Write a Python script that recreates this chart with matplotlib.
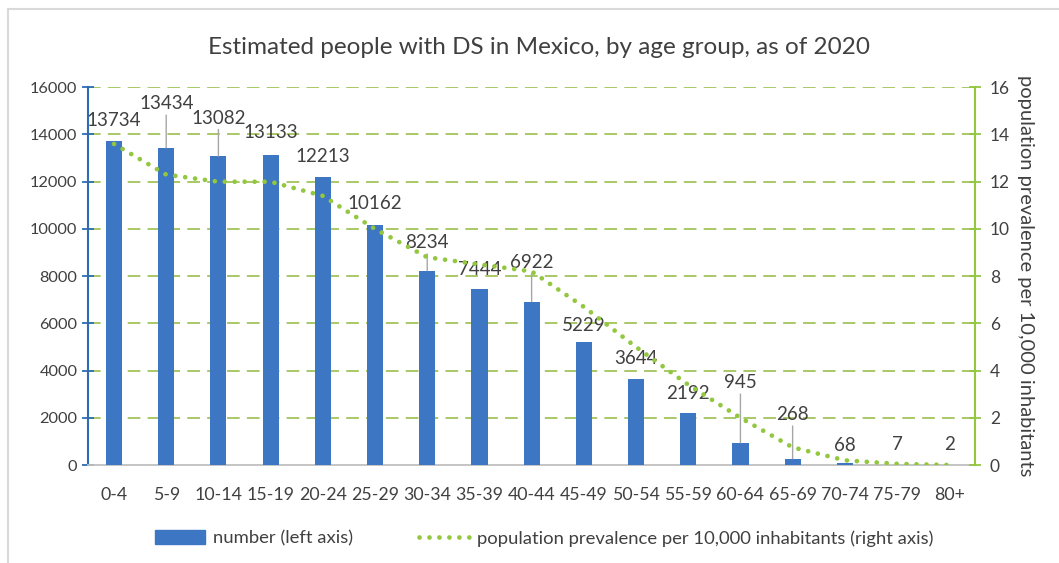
import matplotlib.pyplot as plt
import matplotlib.lines as mlines
import matplotlib.patches as mpatches

plt.rcParams['font.family'] = ['Lato', 'DejaVu Sans']

# Data
age_groups = ['0-4', '5-9', '10-14', '15-19', '20-24', '25-29', '30-34', '35-39',
              '40-44', '45-49', '50-54', '55-59', '60-64', '65-69', '70-74', '75-79', '80+']
people = [13734, 13434, 13082, 13133, 12213, 10162, 8234, 7444,
          6922, 5229, 3644, 2192, 945, 268, 68, 7, 2]
prevalence = [13.6, 12.3, 12.0, 12.0, 11.4, 10.0, 8.8, 8.5,
              8.2, 6.7, 5.0, 3.4, 2.0, 0.75, 0.2, 0.05, 0.0]

# label placement: pixel distance of the data label above the bar top
label_px = [20, 44, 38, 22, 20, 22, 28, 20, 39, 16, 21, 20, 60, 44, 18, 20, 20]

BLUE = '#3D76C2'
GREEN = '#92C73F'
GRID = '#A3C45A'
TXT = '#404040'

fig = plt.figure(figsize=(10.59, 5.63), dpi=100)
ax = fig.add_axes([0.083, 0.174, 0.838, 0.671])
ax2 = ax.twinx()

x = range(len(age_groups))
ax.bar(x, people, width=0.31, color=BLUE, zorder=3)

for i, v in enumerate(people):
    off = label_px[i] * 0.72
    if label_px[i] > 25:
        ax.annotate(str(v), xy=(i, v), xytext=(0, off), textcoords='offset points',
                    ha='center', va='center', fontsize=13.5, color=TXT, zorder=5,
                    arrowprops=dict(arrowstyle='-', color='#A6A6A6', lw=1,
                                    shrinkA=0, shrinkB=0))
    else:
        ax.annotate(str(v), xy=(i, v), xytext=(0, off), textcoords='offset points',
                    ha='center', va='center', fontsize=13.5, color=TXT, zorder=5)

ax2.plot(list(x), prevalence, color=GREEN, lw=3.4, linestyle=(0, (0.01, 2.1)),
         dash_capstyle='round', zorder=4)

ax.set_xlim(-0.5, len(age_groups) - 0.5)
ax.set_ylim(0, 16000)
ax.set_yticks(range(0, 16001, 2000))
ax2.set_ylim(0, 16)
ax2.set_yticks(range(0, 17, 2))

for yv in range(2000, 16001, 2000):
    ax.axhline(yv, color=GRID, lw=1.3, linestyle=(0, (7, 4)), zorder=1)

ax.set_xticks(list(x))
ax.set_xticklabels(age_groups)
ax.tick_params(axis='x', length=0, pad=16, labelsize=12.8, labelcolor=TXT)
ax.tick_params(axis='y', direction='inout', length=9, width=1.3, color='#2E6DB4',
               labelsize=11.8, labelcolor=TXT, pad=3)
ax2.tick_params(axis='y', direction='inout', length=9, width=1.3, color=GREEN,
                labelsize=12.5, labelcolor=TXT, pad=6)

for a in (ax, ax2):
    for s in a.spines.values():
        s.set_visible(False)
ax.spines['left'].set_visible(True)
ax.spines['left'].set_color('#2E6DB4')
ax.spines['left'].set_linewidth(1.5)
ax2.spines['right'].set_visible(True)
ax2.spines['right'].set_color(GREEN)
ax2.spines['right'].set_linewidth(1.5)
ax.spines['bottom'].set_visible(True)
ax.spines['bottom'].set_color('#BFBFBF')
ax.spines['bottom'].set_linewidth(1.3)

ax2.set_ylabel('population prevalence per 10,000 inhabitants', rotation=-90,
               fontsize=14.5, color=TXT, labelpad=17)

fig.text(0.509, 0.915, 'Estimated people with DS in Mexico, by age group, as of 2020',
         ha='center', va='center', fontsize=17.5, color=TXT)

h1 = mpatches.Patch(color=BLUE)
h2 = mlines.Line2D([], [], color=GREEN, lw=3.4, linestyle=(0, (0.01, 2.1)),
                   dash_capstyle='round')
fig.legend([h1, h2], ['number (left axis)',
                      'population prevalence per 10,000 inhabitants (right axis)'],
           loc='center', bbox_to_anchor=(0.514, 0.044), ncol=2, frameon=False,
           fontsize=13.3, handlelength=2.7, handleheight=0.8, handletextpad=0.4,
           columnspacing=3.6, labelcolor=TXT)

# light frame of the chart area
fig.add_artist(mlines.Line2D([0.008, 1.0], [0.984, 0.984], color='#D9D9D9', lw=1.5))
fig.add_artist(mlines.Line2D([0.008, 0.008], [0.0, 0.984], color='#D9D9D9', lw=1.5))

fig.savefig('out.png', dpi=100)
